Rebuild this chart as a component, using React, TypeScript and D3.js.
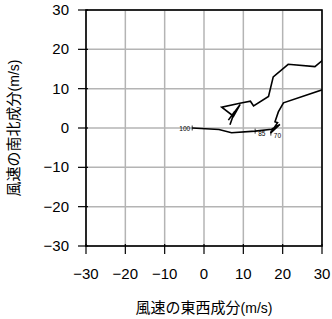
import React from "react";
import * as d3 from "d3";

const ticks = [-30, -20, -10, 0, 10, 20, 30];
const lowerU = [-3.0, 3.8, 7.0, 13.0, 17.2, 19.3, 16.9, 18.7, 18.05, 18.9, 20.2, 33.0];
const lowerV = [0.0, -0.4, -1.2, -0.8, -0.3, 0.9, -1.3, 1.35, 1.6, 4.1, 6.4, 10.7];
const upperU = [33.0, 29.9, 28.2, 21.4, 17.6, 16.4, 12.6, 11.8, 9.1, 4.5, 7.5, 9.2, 6.2, 7.8, 6.6];
const upperV = [21.5, 17.0, 15.6, 16.2, 13.0, 8.0, 5.6, 6.8, 6.3, 5.3, 3.0, 6.0, 2.0, 4.2, 0.8];
const levelLabels = ["100", "85", "70"];
const levelU = [-3.0, 13.0, 17.0];
const levelV = [0.0, -0.8, -1.3];

export default function App() {
  const W = 332, H = 319;
  const left = 86, right = 322, top = 10, bottom = 246;
  const x = d3.scaleLinear().domain([-30, 30]).range([left, right]);
  const y = d3.scaleLinear().domain([-30, 30]).range([bottom, top]);
  const line = d3.line<[number, number]>().x(d => x(d[0])).y(d => y(d[1]));
  const lower = lowerU.map((u, i) => [u, lowerV[i]] as [number, number]);
  const upper = upperU.map((u, i) => [u, upperV[i]] as [number, number]);
  const font = "'Liberation Sans', Arial, sans-serif";
  const cjk = "'Noto Sans CJK JP', sans-serif";
  return (
    <svg width={W} height={H} style={{ position: "absolute", left: 0, top: 0, background: "#fff" }}>
      <defs>
        <clipPath id="plot">
          <rect x={left} y={top} width={right - left} height={bottom - top} />
        </clipPath>
      </defs>
      {ticks.map(t => (
        <g key={"g" + t}>
          <line x1={x(t)} x2={x(t)} y1={top} y2={bottom} stroke="#b4b4b4" strokeWidth={1.5} />
          <line x1={left} x2={right} y1={y(t)} y2={y(t)} stroke="#b4b4b4" strokeWidth={1.5} />
        </g>
      ))}
      <g clipPath="url(#plot)" fill="none" stroke="#000" strokeWidth={1.6} strokeLinejoin="miter">
        <path d={line(lower) || ""} />
        <path d={line(upper) || ""} />
      </g>
      {levelLabels.map((l, i) => (
        <g key={l}>
          <line x1={x(levelU[i])} x2={x(levelU[i])} y1={y(levelV[i]) - 2.5} y2={y(levelV[i]) + 2.5} stroke="#000" strokeWidth={0.8} />
          <text x={i === 0 ? x(levelU[i]) - 2 : x(levelU[i]) + 3} y={y(levelV[i]) + (i === 0 ? 2.5 : 5)} fontSize={6.5} fontFamily={font} textAnchor={i === 0 ? "end" : "start"}>{l}</text>
        </g>
      ))}
      <rect x={left} y={top} width={right - left} height={bottom - top} fill="none" stroke="#000" strokeWidth={1.6} />
      {ticks.map(t => (
        <g key={"t" + t}>
          <line x1={left - 8} x2={left + 2} y1={y(t)} y2={y(t)} stroke="#000" strokeWidth={1.2} />
          <line x1={x(t)} x2={x(t)} y1={bottom - 2} y2={bottom + 8} stroke="#000" strokeWidth={1.2} />
          <text x={69} y={y(t) + 5} fontSize={15} fontFamily={font} textAnchor="end">{t < 0 ? "\u2212" + Math.abs(t) : String(t)}</text>
          <text x={x(t)} y={279} fontSize={15} fontFamily={font} textAnchor="middle">{t < 0 ? "\u2212" + Math.abs(t) : String(t)}</text>
        </g>
      ))}
      <text x={204} y={313} fontSize={15} fontFamily={cjk} textAnchor="middle">風速の東西成分<tspan fontFamily={font} fontSize={14}>(m/s)</tspan></text>
      <text transform={`translate(19,${128}) rotate(-90)`} fontSize={15} fontFamily={cjk} textAnchor="middle">風速の南北成分<tspan fontFamily={font} fontSize={14}>(m/s)</tspan></text>
    </svg>
  );
}
